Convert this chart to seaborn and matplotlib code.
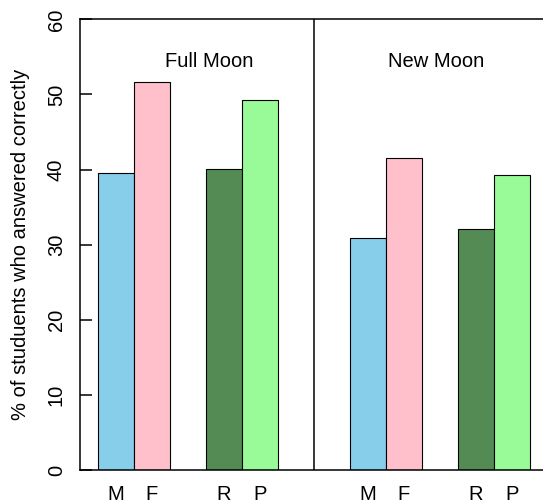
import numpy as np
import pandas as pd
import seaborn as sns
import matplotlib.pyplot as plt

# data
moons = ['Full Moon', 'New Moon']
labels = ['M', 'F', 'R', 'P']
full_moon = [39.5, 51.7, 40.1, 49.3]
new_moon = [30.9, 41.6, 32.1, 39.3]
colors = ['#87CEEB', '#FFC0CB', '#548B54', '#98FB98']
y_ticks = [0, 10, 20, 30, 40, 50, 60]

# bar slots: two pairs per moon phase, one empty slot between pairs
offsets = [1, 2, 4, 5]
group_step = 7

rows = []
for g, (moon, vals) in enumerate(zip(moons, [full_moon, new_moon])):
    for lab, off, v in zip(labels, offsets, vals):
        rows.append({'moon': moon, 'label': lab, 'pos': off + g * group_step, 'pct': v})
df = pd.DataFrame(rows)

sns.set_style('white')
plt.rcParams['font.family'] = ['Liberation Sans', 'DejaVu Sans']
plt.rcParams['text.color'] = 'black'
plt.rcParams['axes.labelcolor'] = 'black'
plt.rcParams['xtick.color'] = 'black'
plt.rcParams['ytick.color'] = 'black'

fig = plt.figure(figsize=(5.43, 5.03), dpi=100)
ax = fig.add_axes([0.1468, 0.0656, 0.895, 0.896])

sns.barplot(data=df, x='pos', y='pct', hue='label', palette=dict(zip(labels, colors)),
            native_scale=True, dodge=False, width=1, saturation=1, errorbar=None,
            edgecolor='black', linewidth=0.8, legend=False, ax=ax)

ax.set_xlim(0, 2 * group_step - 0.5)
ax.set_ylim(0, 60)
ax.axvline(group_step - 0.5, color='black', lw=1.1)

for spine in ax.spines.values():
    spine.set_visible(True)
    spine.set_color('black')
    spine.set_linewidth(1.1)

# labels under each bar, no tick marks
ax.set_xticks(df.pos)
ax.set_xticklabels(df.label, fontsize=14.5, color='black')
ax.tick_params(axis='x', length=0, pad=10.5)

# ticks point into the box, labels turned on their side
ax.set_yticks(y_ticks)
ax.set_yticklabels([str(t) for t in y_ticks], fontsize=14.5, rotation=90, va='center', color='black')
ax.tick_params(axis='y', direction='in', length=8.5, width=1.1, pad=10, left=True, color='black')

ax.set_xlabel('')
ax.set_ylabel('% of studuents who answered correctly', fontsize=14.5, color='black')
ax.yaxis.set_label_coords(-0.102, 0.5)

# phase names inside each half
ax.text(3.6, 54.4, moons[0], ha='center', va='center', fontsize=14.5, color='black')
ax.text(9.9, 54.4, moons[1], ha='center', va='center', fontsize=14.5, color='black')

fig.savefig('out.png', dpi=100)
